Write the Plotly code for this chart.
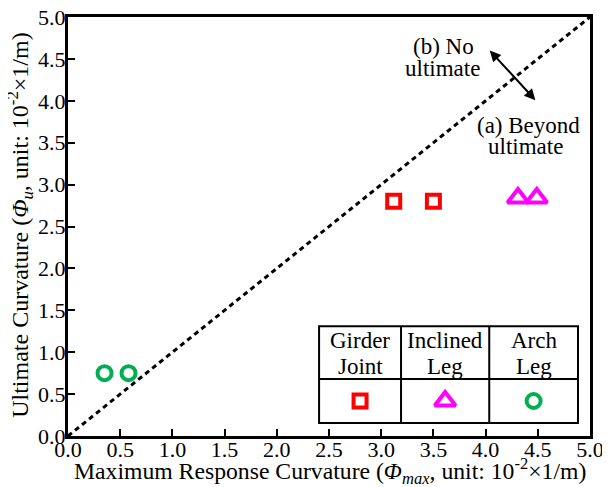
import plotly.graph_objects as go

# Data
girder_x = [3.12, 3.50]
girder_y = [2.80, 2.80]
inclined_x = [4.31, 4.49]
inclined_y = [2.84, 2.84]
arch_x = [0.35, 0.58]
arch_y = [0.75, 0.75]
ref_line = [0.0, 5.0]
tick_vals = [0.0, 0.5, 1.0, 1.5, 2.0, 2.5, 3.0, 3.5, 4.0, 4.5, 5.0]
tick_text = [f"{v:.1f}" for v in tick_vals]
legend_lines = [("Girder", "Joint"), ("Inclined", "Leg"), ("Arch", "Leg")]
x_title = "Maximum Response Curvature (<i>Φ<sub>max</sub></i>, unit: 10<sup>-2</sup>×1/m)"
y_title = "Ultimate Curvature (<i>Φ<sub>u</sub></i>, unit: 10<sup>-2</sup>×1/m)"

RED = "#FF0000"
MAG = "#FF00FF"
GRN = "#00B050"
FONT = "Times New Roman"
TXT = 23
tfont = dict(family=FONT, size=TXT, color="black")

fig = go.Figure()
fig.add_trace(go.Scatter(x=ref_line, y=ref_line, mode="lines",
                         line=dict(color="black", width=3, dash="5px,4px"), showlegend=False))
fig.add_trace(go.Scatter(x=girder_x, y=girder_y, mode="markers", showlegend=False,
                         marker=dict(symbol="square-open", color=RED, size=13, line=dict(width=4, color=RED))))
fig.add_trace(go.Scatter(x=inclined_x, y=inclined_y, mode="markers", showlegend=False,
                         marker=dict(symbol="triangle-up-open", color=MAG, size=18, line=dict(width=4, color=MAG))))
fig.add_trace(go.Scatter(x=arch_x, y=arch_y, mode="markers", showlegend=False,
                         marker=dict(symbol="circle-open", color=GRN, size=14, line=dict(width=4, color=GRN))))

# Legend table (paper coordinates)
tl, tm, tb = 0.262, 0.136, 0.031
colx = [0.481, 0.638, 0.807, 0.977]
shapes = []
shapes.append(dict(type="rect", xref="paper", yref="paper", x0=colx[0], x1=colx[3], y0=tb, y1=tl,
                   line=dict(color="black", width=2), layer="above"))
for cx in colx[1:3]:
    shapes.append(dict(type="line", xref="paper", yref="paper", x0=cx, x1=cx, y0=tb, y1=tl,
                       line=dict(color="black", width=2)))
shapes.append(dict(type="line", xref="paper", yref="paper", x0=colx[0], x1=colx[3], y0=tm, y1=tm,
                   line=dict(color="black", width=2)))

annotations = []
for i, (l1, l2) in enumerate(legend_lines):
    cx = (colx[i] + colx[i + 1]) / 2
    for txt, yy in ((l1, 0.229), (l2, 0.165)):
        annotations.append(dict(xref="paper", yref="paper", x=cx, y=yy, text=txt,
                                showarrow=False, font=tfont,
                                xanchor="center", yanchor="middle", align="center"))

leg_syms = ["square-open", "triangle-up-open", "circle-open"]
leg_cols = [RED, MAG, GRN]
leg_sizes = [13, 18, 14]
for i in range(3):
    cx = (colx[i] + colx[i + 1]) / 2
    fig.add_trace(go.Scatter(x=[cx], y=[(tm + tb) / 2], xaxis="x2", yaxis="y2", mode="markers",
                             showlegend=False, cliponaxis=False,
                             marker=dict(symbol=leg_syms[i], color=leg_cols[i], size=leg_sizes[i],
                                         line=dict(width=4, color=leg_cols[i]))))

# Arrow (double-headed)
annotations.append(dict(x=4.04, y=4.60, ax=4.49, ay=3.99, xref="x", yref="y", axref="x", ayref="y",
                        showarrow=True, arrowhead=2, arrowside="end+start", arrowsize=1.1,
                        arrowwidth=2, arrowcolor="black", text=""))
for txt, xx, yy in (("(b) No", 3.60, 4.65), ("ultimate", 3.59, 4.39),
                    ("(a) Beyond", 4.41, 3.71), ("ultimate", 4.38, 3.45)):
    annotations.append(dict(x=xx, y=yy, xref="x", yref="y", text=txt, showarrow=False,
                            font=tfont, xanchor="center", yanchor="middle"))

# Axis titles
annotations.append(dict(xref="paper", yref="paper", x=0.502, y=-0.083, text=x_title, showarrow=False,
                        font=dict(family=FONT, size=23.7, color="black"), xanchor="center", yanchor="middle"))
annotations.append(dict(xref="paper", yref="paper", x=-0.092, y=0.504, text=y_title, showarrow=False,
                        font=dict(family=FONT, size=24, color="black"), xanchor="center", yanchor="middle",
                        textangle=-90))

axis_common = dict(range=[0, 5], tickvals=tick_vals, ticktext=tick_text, ticks="inside", ticklen=7,
                   tickwidth=1.5, tickcolor="black", showline=True, linewidth=3, linecolor="black",
                   mirror=True, showgrid=False, zeroline=False, automargin=False,
                   ticklabeloverflow="allow",
                   tickfont=dict(family=FONT, size=22, color="black"))

# page body has an 8px default margin: figure occupies (8,8)-(610,487)
fig.update_layout(
    width=602, height=479,
    margin=dict(l=60, r=20, t=9, b=51),
    plot_bgcolor="white", paper_bgcolor="white",
    font=dict(family=FONT),
    xaxis=dict(**axis_common, ticklabelstandoff=-8),
    yaxis=dict(**axis_common, ticklabelstandoff=-5),
    xaxis2=dict(range=[0, 1], domain=[0, 1], overlaying="x", visible=False),
    yaxis2=dict(range=[0, 1], domain=[0, 1], overlaying="y", visible=False),
    shapes=shapes, annotations=annotations,
)

fig.write_html("out.html")
